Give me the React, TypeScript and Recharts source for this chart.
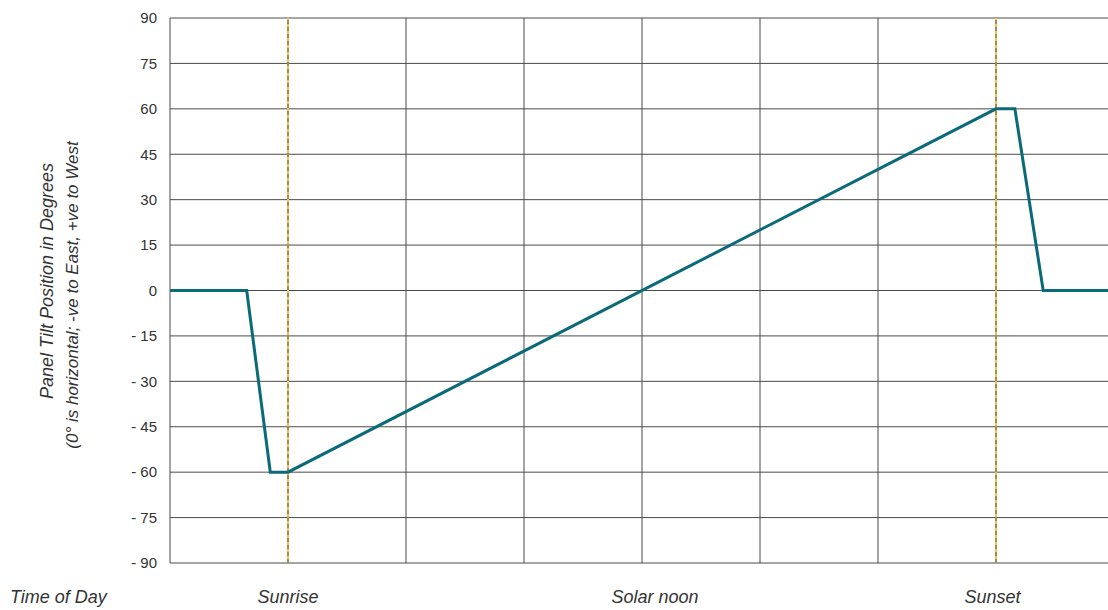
import { LineChart, Line, XAxis, YAxis, CartesianGrid, ReferenceLine } from "recharts";

// hours after midnight-ish scale: one grid column per unit
const hours = [0, 0.65, 0.85, 1, 7, 7.16, 7.4, 8];
const tilt = [0, 0, -60, -60, 60, 60, 0, 0];

const gridTicks = [0, 1, 2, 3, 4, 5, 6, 7, 8];
const tiltTicks = [-90, -75, -60, -45, -30, -15, 0, 15, 30, 45, 60, 75, 90];

const eventTicks = [1, 4.11, 6.97];
const eventLabels = ["Sunrise", "Solar noon", "Sunset"];
const sunEvents = [1, 7];

const data = hours.map((h, i) => ({ hour: h, tilt: tilt[i] }));

const FONT = "'Liberation Sans', Arial, sans-serif";

const fmtTilt = (v: number) => (v < 0 ? `- ${Math.abs(v)}` : `${v}`);

const YTitle = () => (
  <g fontFamily={FONT} fontStyle="italic" fill="#333">
    <text transform="translate(53, 281) rotate(-90)" textAnchor="middle" fontSize={18}>
      Panel Tilt Position in Degrees
    </text>
    <text transform="translate(78, 295) rotate(-90)" textAnchor="middle" fontSize={17}>
      (0° is horizontal; -ve to East, +ve to West
    </text>
  </g>
);

const XTitle = () => (
  <text x={10} y={603} fontFamily={FONT} fontStyle="italic" fontSize={18} fill="#333">
    Time of Day
  </text>
);

const EventTick = (props: any) => {
  const { x, payload } = props;
  return (
    <text x={x} y={603} textAnchor="middle" fontFamily={FONT} fontStyle="italic" fontSize={18} fill="#333">
      {eventLabels[eventTicks.indexOf(payload.value)]}
    </text>
  );
};

export default function App() {
  return (
    <div style={{ position: "absolute", left: 0, top: 0, width: 1108, height: 610, overflow: "hidden", background: "#fff" }}>
      <LineChart width={1114} height={610} data={data} margin={{ top: 18, right: 0, bottom: 0, left: 0 }}>
        <CartesianGrid xAxisId="grid" stroke="#4a4a4a" strokeWidth={1} />
        <XAxis xAxisId="grid" dataKey="hour" type="number" domain={[0, 8]} ticks={gridTicks} hide />
        <XAxis
          xAxisId="labels"
          dataKey="hour"
          type="number"
          domain={[0, 8]}
          ticks={eventTicks}
          axisLine={false}
          tickLine={false}
          tickSize={0}
          height={47}
          tick={<EventTick />}
          label={<XTitle />}
        />
        <YAxis
          type="number"
          domain={[-90, 90]}
          ticks={tiltTicks}
          tickFormatter={fmtTilt}
          width={170}
          axisLine={false}
          tickLine={false}
          tickSize={0}
          tickMargin={13}
          tick={{ fontFamily: FONT, fontSize: 15, fill: "#333" }}
          label={<YTitle />}
        />
        {sunEvents.map((x) => (
          <ReferenceLine key={`y${x}`} xAxisId="grid" x={x} stroke="#f4c04c" strokeWidth={2} />
        ))}
        {sunEvents.map((x) => (
          <ReferenceLine key={`d${x}`} xAxisId="grid" x={x} stroke="#555" strokeWidth={1} strokeDasharray="4 3" />
        ))}
        <Line
          xAxisId="grid"
          type="linear"
          dataKey="tilt"
          stroke="#0b6a79"
          strokeWidth={3}
          dot={false}
          isAnimationActive={false}
        />
      </LineChart>
    </div>
  );
}
